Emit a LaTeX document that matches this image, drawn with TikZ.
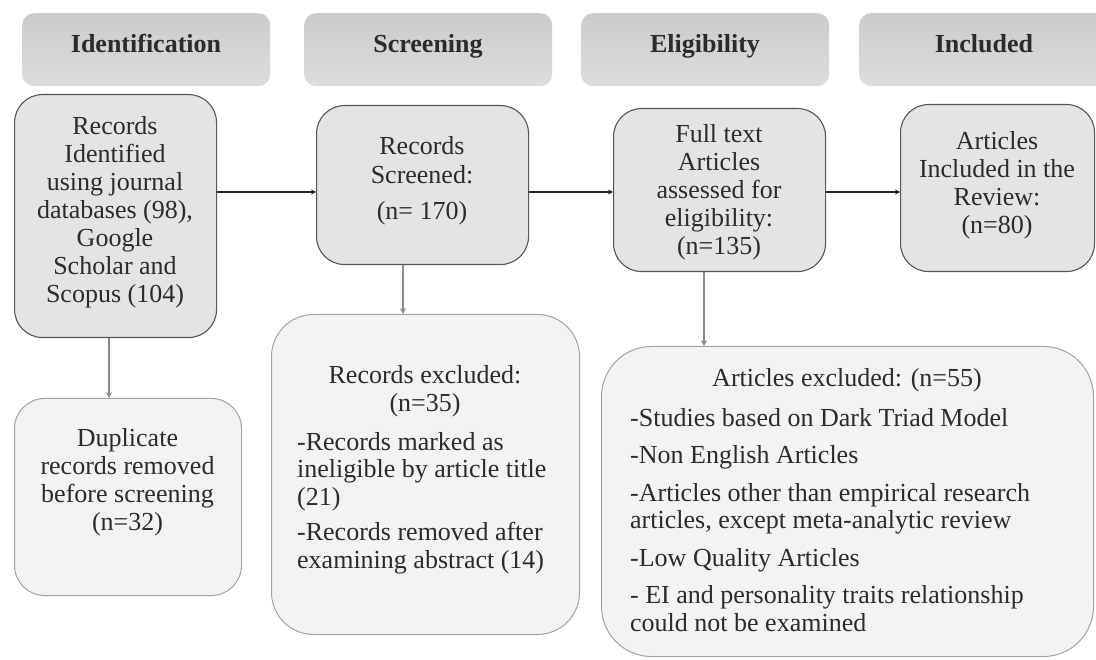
\documentclass[tikz,border=0pt]{standalone}
\usepackage{fontspec}
\setmainfont{Liberation Serif}
\usetikzlibrary{arrows.meta}

\definecolor{headtop}{HTML}{CBCBCB}
\definecolor{headbot}{HTML}{DDDDDD}
\definecolor{mainfill}{HTML}{E4E4E4}
\definecolor{mainline}{HTML}{555555}
\definecolor{sidefill}{HTML}{F3F3F3}
\definecolor{sideline}{HTML}{A3A3A3}
\definecolor{ink}{HTML}{2B2B2B}
\definecolor{branch}{HTML}{8A8A8A}

\tikzset{
  phase/.style={rounded corners=12pt, top color=headtop, bottom color=headbot,
    draw=none, anchor=north west, inner sep=0pt},
  phaselabel/.style={font=\fontsize{26}{28}\selectfont\bfseries, text=ink,
    inner sep=0pt, anchor=base},
  mainbox/.style={draw=mainline, line width=1.1pt, fill=mainfill, rounded corners=28pt,
    anchor=north west, inner sep=0pt},
  sidebox/.style={draw=sideline, line width=1pt, fill=sidefill,
    anchor=north west, inner sep=0pt},
  body/.style={font=\fontsize{26}{28}\selectfont, text=ink, align=center, inner sep=0pt},
  listbody/.style={font=\fontsize{26}{27.5}\selectfont, text=ink, align=left,
    inner sep=0pt, anchor=west},
  flow/.style={draw=black!85, line width=1.3pt, -{Stealth[length=5pt,width=5pt]}},
  drop/.style={draw=branch, line width=2pt, -{Stealth[length=6pt,width=6pt]}},
}

\begin{document}
\begin{tikzpicture}[x=1pt,y=-1pt]
\useasboundingbox (0,0) rectangle (1096,660);
\clip (0,0) rectangle (1096,660);

% phase headers
\node[phase, minimum width=248pt, minimum height=73pt] (h1) at (22,13) {};
\node[phase, minimum width=248pt, minimum height=73pt] (h2) at (304,13) {};
\node[phase, minimum width=248pt, minimum height=73pt] (h3) at (581,13) {};
\node[phase, minimum width=250pt, minimum height=73pt] (h4) at (859,13) {};
\node[phaselabel] (h1t) at (146,53) {Identification};
\node[phaselabel] (h2t) at (428,53) {Screening};
\node[phaselabel] (h3t) at (705,53) {Eligibility};
\node[phaselabel] (h4t) at (984,53) {Included};

% main flow boxes
\node[mainbox, minimum width=202pt, minimum height=243pt] (b1) at (14,94) {};
\node[mainbox, minimum width=212pt, minimum height=159pt] (b2) at (316,105) {};
\node[mainbox, minimum width=212pt, minimum height=163pt] (b3) at (613,108) {};
\node[mainbox, minimum width=194pt, minimum height=167pt] (b4) at (900,104) {};

% exclusion boxes
\node[sidebox, rounded corners=30pt, minimum width=227pt, minimum height=197pt] (b5) at (14,398) {};
\node[sidebox, rounded corners=42pt, minimum width=308pt, minimum height=320pt] (b6) at (271,314) {};
\node[sidebox, rounded corners=50pt, minimum width=492pt, minimum height=310pt] (b7) at (601,346) {};

% box texts
\node[body] (b1t) at (115,212) {Records\\Identified\\using journal\\databases (98),\\Google\\Scholar and\\Scopus (104)};
\node[body] (b2t) at (422,181) {Records\\[1pt]Screened:\\[8pt](n= 170)};
\node[body] (b3t) at (719,192) {Full text\\Articles\\assessed for\\eligibility:\\(n=135)};
\node[body] (b4t) at (997,185.5) {Articles\\Included in the\\Review:\\(n=80)};
\node[body] (b5t) at (127.5,482) {Duplicate\\records removed\\before screening\\(n=32)};

\node[body] (b6h) at (425,391) {Records excluded:\\(n=35)};
\node[listbody] (b6l) at (297,503) {-Records marked as\\ineligible by article title\\(21)\\[8pt]-Records removed after\\examining abstract (14)};

\node[body] (b7h) at (847,380) {Articles excluded: (n=55)};
\node[listbody] (b7l) at (630,520) {-Studies based on Dark Triad Model\\[10pt]-Non English Articles\\[10pt]-Articles other than empirical research\\articles, except meta-analytic review\\[10pt]-Low Quality Articles\\[10pt]- EI and personality traits relationship\\could not be examined};

% connector guides
\coordinate (row) at (0,192);
\coordinate (c1) at (109,0);
\coordinate (c2) at (403,0);
\coordinate (c3) at (704,0);

% horizontal flow
\draw[flow] (b1.east |- row) -- (b2.west |- row);
\draw[flow] (b2.east |- row) -- (b3.west |- row);
\draw[flow] (b3.east |- row) -- (b4.west |- row);

% exclusions
\draw[drop] (b1.south -| c1) -- (b5.north -| c1);
\draw[drop] (b2.south -| c2) -- (b6.north -| c2);
\draw[drop] (b3.south -| c3) -- (b7.north -| c3);
\end{tikzpicture}
\end{document}
